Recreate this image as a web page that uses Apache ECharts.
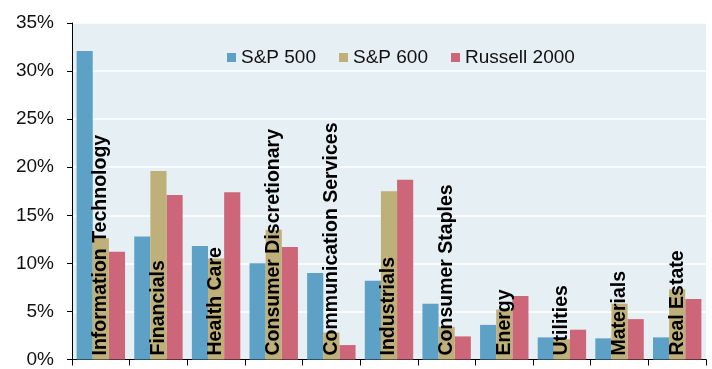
<!DOCTYPE html>
<html>
<head>
    <meta charset="UTF-8">
    <title>Sector weights</title>
    <style>
        body, html {
            margin: 0;
            padding: 0;
            background: #fff;
        }
        #container {
            width: 712px;
            height: 369px;
        }
    </style>
</head>
<body>
<div id="container"></div>

<script src="https://cdn.jsdelivr.net/npm/echarts@6/dist/echarts.min.js"></script>
<script>
    // data
    var sectors = ['Information Technology', 'Financials', 'Health Care', 'Consumer Discretionary',
        'Communication Services', 'Industrials', 'Consumer Staples', 'Energy', 'Utilities', 'Materials', 'Real Estate'];
    var seriesNames = ['S&P 500', 'S&P 600', 'Russell 2000'];
    var sp500 = [32.1, 12.8, 11.8, 10.0, 9.0, 8.2, 5.8, 3.6, 2.3, 2.2, 2.3];
    var sp600 = [12.6, 19.6, 10.5, 13.5, 2.8, 17.5, 3.4, 5.2, 2.1, 5.8, 7.3];
    var russell2000 = [11.2, 17.1, 17.4, 11.7, 1.5, 18.7, 2.4, 6.6, 3.1, 4.2, 6.3];
    var yTicks = [0, 5, 10, 15, 20, 25, 30, 35];

    var colors = ['#5DA1C6', '#BFAF78', '#CD6679'];

    function buildChart() {
        var echart = echarts.init(document.getElementById('container'));
        var font = 'Liberation Sans, Arial, sans-serif';
        var values = [sp500, sp600, russell2000];
        var series = [];
        for (var i = 0; i < seriesNames.length; i++) {
            var s = {
                name: seriesNames[i],
                type: 'bar',
                barGap: 0,
                barCategoryGap: '16%',
                itemStyle: {color: colors[i]},
                data: values[i]
            };
            if (i === 1) {
                // category names sit rotated inside the middle bar
                s.label = {
                    show: true,
                    position: 'insideBottom',
                    distance: 4,
                    rotate: 90,
                    align: 'left',
                    verticalAlign: 'middle',
                    fontFamily: font,
                    fontWeight: 'bold',
                    fontSize: 19.5,
                    color: '#000',
                    formatter: function (p) { return p.name; }
                };
                s.z = 3;
            }
            series.push(s);
        }

        var option = {
            animation: false,
            textStyle: {fontFamily: font},
            legend: {
                data: seriesNames,
                left: 222,
                top: 43,
                icon: 'rect',
                itemWidth: 9,
                itemHeight: 9,
                itemGap: 23,
                textStyle: {fontSize: 19, color: '#111', fontFamily: font}
            },
            grid: {
                left: 72,
                right: 6,
                top: 23,
                bottom: 7,
                show: true,
                backgroundColor: '#E6EFF3',
                borderWidth: 0
            },
            xAxis: {
                type: 'category',
                data: sectors,
                axisLine: {lineStyle: {color: '#000', width: 1}},
                axisTick: {show: true, interval: 0, length: 6, lineStyle: {color: '#000'}},
                axisLabel: {show: false}
            },
            yAxis: {
                type: 'value',
                min: yTicks[0],
                max: yTicks[yTicks.length - 1],
                interval: 5,
                axisLine: {show: true, lineStyle: {color: '#000', width: 1}},
                axisTick: {show: true, length: 5, lineStyle: {color: '#000'}},
                splitLine: {lineStyle: {color: '#fff', width: 1.5}},
                axisLabel: {
                    formatter: '{value}%',
                    fontSize: 19,
                    color: '#111',
                    margin: 18,
                    fontFamily: font
                }
            },
            series: series
        };
        echart.setOption(option);
    }

    buildChart();
</script>
</body>
</html>
